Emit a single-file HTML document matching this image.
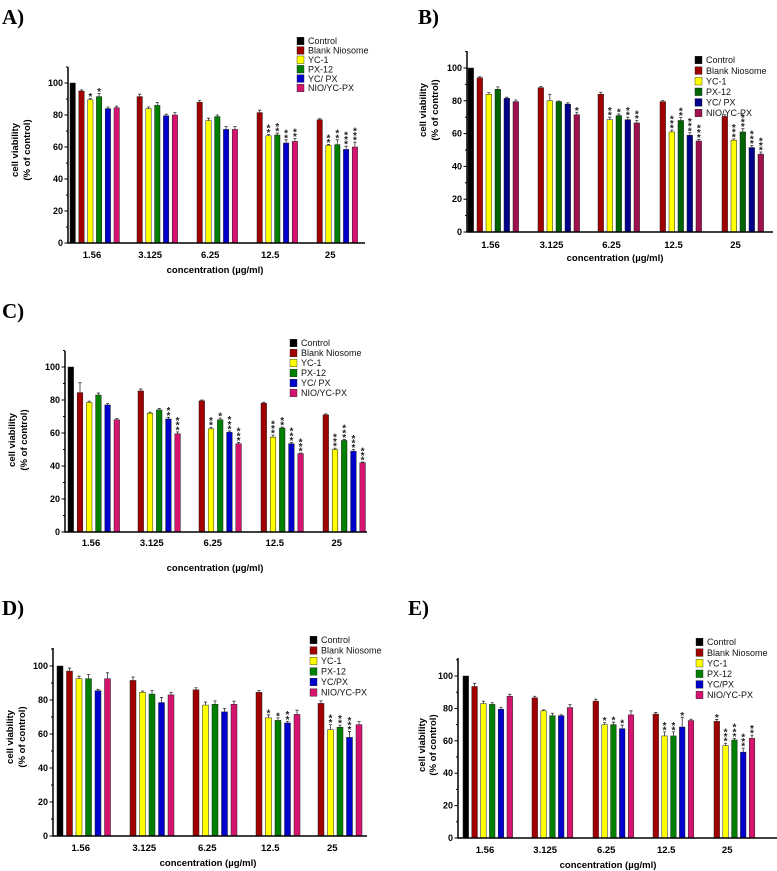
<!DOCTYPE html>
<html><head><meta charset="utf-8"><style>
html,body{margin:0;padding:0;background:#fff}
svg{display:block;font-family:"Liberation Sans",Arial,sans-serif}
</style></head><body>
<svg id="fig" width="777" height="871" viewBox="0 0 777 871" xmlns="http://www.w3.org/2000/svg"></svg>
<script>
// ---- data ----
const categories = ["1.56","3.125","6.25","12.5","25"];
const seriesNamesA = ["Control","Blank Niosome","YC-1","PX-12","YC/ PX","NIO/YC-PX"];
const seriesNamesD = ["Control","Blank Niosome","YC-1","PX-12","YC/PX","NIO/YC-PX"];
const yTicks = [0,20,40,60,80,100];
// values per group: first group includes Control, later groups omit it
const valuesA = [[100,95,89.5,91.5,84,84.5],[91.5,84,86,79.5,80],[88,76.5,79,71,71],[81.5,67,67.5,62.5,63.5],[77,61,61.5,58.5,60]];
const errorsA = [[0,0.7,0.8,2,1,1],[1.5,1,1.8,1,1.5],[1.2,1.5,1,1.8,1.8],[1.5,0.8,1.2,2,1.8],[0.7,0.6,3,2,3]];
const starsA = [["","","*","*","",""],["","","","",""],["","","","",""],["","**","**","**","**"],["","**","**","***","***"]];
const valuesB = [[100,94,84,87,81.5,79.5],[88,80,79.5,78,71.5],[84,68.5,71,68.5,66.5],[79.5,61,68,59,55.5],[70.5,56,61,51.5,47.5]];
const errorsB = [[0,0.7,1,1.5,0.7,1],[0.7,4,0.4,0.8,1.5],[1.2,1.5,1,1.5,1.5],[0.6,1.2,1.8,1.5,1],[1,0.8,2,1.3,1.3]];
const starsB = [["","","","","",""],["","","","","*"],["","**","*","**","**"],["","***","**","***","***"],["","***","***","***","***"]];
const valuesC = [[100,84.5,78.5,83,77,68],[85.5,72,74,68.5,59.5],[79.5,62.5,68,60.5,53.5],[78,57.5,63,53.5,47.5],[71,50,55.5,49,42]];
const errorsC = [[0,6,0.8,1.2,0.8,0.8],[1.2,0.6,0.8,1,1.2],[0.5,1,1,0.8,0.8],[0.6,1.2,0.6,0.8,0.4],[0.6,0.8,0.6,1,0.4]];
const starsC = [["","","","","",""],["","","","**","***"],["","**","*","***","***"],["","***","**","***","***"],["","***","***","***","***"]];
const valuesD = [[100,97,92.5,92.5,85.5,92.5],[91.5,84.5,83.5,78.5,83],[86,77,77.5,73,77.5],[84.5,69.5,68,66.5,71.5],[78,62.5,64,58,65.5]];
const errorsD = [[0,1.8,1.5,2.5,0.8,3.5],[2,0.8,2,3,1.5],[1.2,1.8,2,2,1.8],[1,1.8,1.5,1,2.5],[1.5,3,1.2,3.5,1.8]];
const starsD = [["","","","","",""],["","","","",""],["","","","",""],["","*","*","**",""],["","**","**","***",""]];
const valuesE = [[100,93.5,83,82.5,79.5,87.5],[86.5,78.5,75.5,75.5,80.5],[84.5,70,70,67.5,76],[76.5,63,63,68.5,72.5],[72,57,60.5,53,61.5]];
const errorsE = [[0,2,1.5,1,1.2,1.2],[1,0.6,1.5,0.6,1.8],[1.2,1.2,1.5,2.2,2.5],[1,2.5,2.5,6,0.8],[1.2,1.5,1,2.5,2]];
const starsE = [["","","","","",""],["","","","",""],["","*","*","*",""],["","**","**","*",""],["*","***","***","***","**"]];

const colorsStd = ["#000000","#a00000","#ffff00","#008000","#0000cc","#d4146e"];
const colorsB = ["#000000","#a00000","#ffff00","#006400","#00008b","#a0104e"];

const panels = [
 {id:"a",title:"A)",tx:2,ty:24,ax:68,y0:243,y100:83,ytop:67,xend:365,ctrl:70,pitch:8.8,bw:5.4,reds:[78.8,137,197,257,317],tickY:258,xlab:[215,273],ylabX:[15,27],ylabY:150,legX:297,legY:41,legRow:9.4,names:seriesNamesA,vals:valuesA,errs:errorsA,stars:starsA,colors:colorsStd},
 {id:"b",title:"B)",tx:418,ty:24,ax:467,y0:232,y100:68,ytop:51,xend:773,ctrl:468,pitch:9,bw:5.6,reds:[477,538,598,660,722],tickY:248,xlab:[615,261],ylabX:[423,435],ylabY:110,legX:695,legY:60,legRow:10.6,names:seriesNamesA,vals:valuesB,errs:errorsB,stars:starsB,colors:colorsB},
 {id:"c",title:"C)",tx:2,ty:318,ax:65,y0:532,y100:367,ytop:351,xend:367,ctrl:68,pitch:9.2,bw:5.6,reds:[77.2,138,199,261,323],tickY:546,xlab:[215,571],ylabX:[12,24],ylabY:440,legX:290,legY:343,legRow:10,names:seriesNamesA,vals:valuesC,errs:errorsC,stars:starsC,colors:colorsStd},
 {id:"d",title:"D)",tx:2,ty:615,ax:53,y0:836,y100:666,ytop:648,xend:367,ctrl:57,pitch:9.5,bw:6,reds:[66.5,130,193,256,318],tickY:851,xlab:[208,866],ylabX:[10,22],ylabY:737,legX:310,legY:640,legRow:10.5,names:seriesNamesD,vals:valuesD,errs:errorsD,stars:starsD,colors:colorsStd},
 {id:"e",title:"E)",tx:408,ty:615,ax:458,y0:838,y100:676,ytop:658,xend:777,ctrl:463,pitch:8.8,bw:5.6,reds:[471.8,532,593,653,714],tickY:853,xlab:[608,868],ylabX:[422,433],ylabY:745,legX:696,legY:642,legRow:10.6,names:seriesNamesD,vals:valuesE,errs:errorsE,stars:starsE,colors:colorsStd}
];

const NS="http://www.w3.org/2000/svg";
const svg=document.getElementById('fig');
function mk(tag,attrs,parent,txt){const e=document.createElementNS(NS,tag);for(const k in attrs)e.setAttribute(k,attrs[k]);if(txt!==undefined)e.textContent=txt;parent.appendChild(e);return e;}

panels.forEach(p=>{
  const g=mk('g',{},svg);
  
  
  const yS=v=>p.y0-(v/100)*(p.y0-p.y100);
  const t=mk('text',{x:p.tx,y:p.ty,'font-family':'"Liberation Serif",serif','font-weight':'bold','font-size':21},g,p.title);
  
  
  p.vals.forEach((grp,gi)=>{
    const offset = grp.length===6?0:1;
    grp.forEach((v,si)=>{
      const s=si+offset;
      const x = s===0? p.ctrl : p.reds[gi]+(s-1)*p.pitch;
      const r=mk('rect',{x:x,y:yS(v),width:p.bw,height:p.y0-yS(v),fill:p.colors[s],stroke:'#222','stroke-width':0.5},g);
      
      
      const e=p.errs[gi][si];
      if(e>0){
        const cx=x+p.bw/2;
        const l=mk('path',{d:`M${cx},${yS(v)} V${yS(v+e)} M${cx-1.6},${yS(v+e)} H${cx+1.6}`,stroke:'#333','stroke-width':0.8,fill:'none'},g);
        
        
      }
      const star = p.stars[gi][si];
      if(star){
        const cx=x+p.bw/2;
        for(let k=0;k<star.length;k++){
          const sy=yS(v+e)-3-k*4.6;
          const tt=mk('text',{x:cx,y:sy+4.5,'text-anchor':'middle','font-size':10,'font-weight':'bold',fill:'#222'},g,'*');
          
          
        }
      }
    });
  });
  const ax=mk('path',{d:`M${p.ax},${p.ytop} V${p.y0} H${p.xend}`,stroke:'#000','stroke-width':1.5,fill:'none'},g);
  
  
  for(let v=0;v<=110;v+=10){
    const len = v%20===0?3.5:2;
    mk('line',{x1:p.ax-len,x2:p.ax,y1:yS(v),y2:yS(v),stroke:'#000','stroke-width':1},g);
  }
  yTicks.forEach(v=>{
    const tt=mk('text',{x:p.ax-5,y:yS(v)+3,'text-anchor':'end','font-size':9,'font-weight':'bold'},g,String(v));
    
    
  });
  categories.forEach((c,gi)=>{
    const tt=mk('text',{x:p.reds[gi]+1.5*p.pitch,y:p.tickY,'text-anchor':'middle','font-size':9.5,'font-weight':'bold'},g,c);
    
    
  });
  const xl=mk('text',{x:p.xlab[0],y:p.xlab[1],'text-anchor':'middle','font-size':9.5,'font-weight':'bold'},g,'concentration (µg/ml)');
  
  
  ['cell viability','(% of control)'].forEach((s,i)=>{
    const x=p.ylabX[i]+3;
    const tt=mk('text',{x:x,y:p.ylabY,'text-anchor':'middle','font-size':9.5,'font-weight':'bold',transform:`rotate(-90 ${x} ${p.ylabY})`},g,s);
    
    
  });
  p.names.forEach((n,i)=>{
    const cy=p.legY+i*p.legRow;
    const r=mk('rect',{x:p.legX,y:cy-3.8,width:7,height:7.6,fill:p.colors[i],stroke:'#222','stroke-width':0.4},g);
    
    
    const tt=mk('text',{x:p.legX+11,y:cy+3.2,'font-size':9,fill:'#111'},g,n);
    
    
  });
});
</script>
</body></html>
